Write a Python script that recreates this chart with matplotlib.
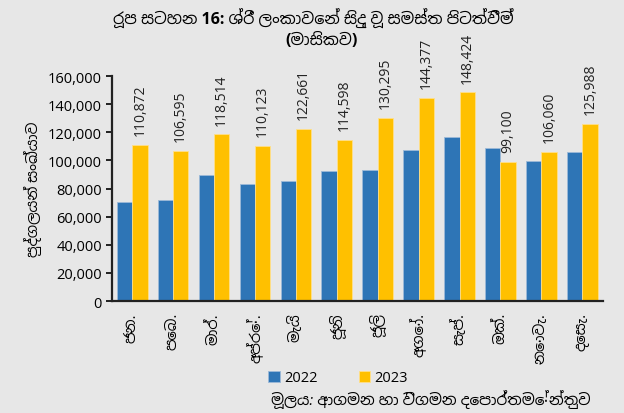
import matplotlib
matplotlib.use('Agg')

import matplotlib.pyplot as plt
from matplotlib import font_manager
from matplotlib.ft2font import FT2Font
import numpy as np

# Data
months = ['ජන.', 'පෙබ.', 'මාර්.', 'අප්‍රේ.', 'මැයි', 'ජූනි', 'ජූලි',
          'අගෝ.', 'සැප්.', 'ඔක්.', 'නොවැ.', 'දෙසැ.']
values_2022 = [70500, 72000, 89500, 83300, 85500, 92300, 93300,
               107500, 116300, 109000, 99900, 106300]
values_2023 = [110872, 106595, 118514, 110123, 122661, 114598, 130295,
               144377, 148424, 99100, 106060, 125988]
series_names = ['2022', '2023']
title_lines = ['රූප සටහන 16: ශ්‍රී ලංකාවෙන් සිදු වූ සමස්ත පිටත්වීම්',
               '(මාසිකව)']
ylabel = 'පුද්ගලයන් සංඛ්‍යාව'
source = 'මූලය: ආගමන හා විගමන දෙපාර්තමේන්තුව'


def find_sinhala_fonts():
    """Look for any installed font that has Sinhala glyphs"""
    found = []
    for f in font_manager.fontManager.ttflist:
        try:
            cmap = FT2Font(f.fname).get_charmap()
        except Exception:
            continue
        if 0x0DC1 in cmap and f.name not in found:
            found.append(f.name)
    # sans fonts first
    pref = ['Noto Sans Sinhala', 'Noto Sans Sinhala UI', 'Hind Colombo']
    found.sort(key=lambda n: (pref.index(n) if n in pref else 10,
                              'mono' in n.lower(), n))
    return found


def clean(s):
    # zero width joiner is not shaped by matplotlib, drop it
    return s.replace('\u200d', '')


sinhala = find_sinhala_fonts()
plt.rcParams['font.family'] = ['Open Sans'] + sinhala[:1] + ['DejaVu Sans']

BG = '#E7E7E7'
BLUE = '#2E75B6'
YELLOW = '#FFC000'

fig = plt.figure(figsize=(6.24, 4.14), dpi=100, facecolor=BG)
ax = fig.add_axes([0.179, 0.2705, 0.787, 0.5435])
ax.set_facecolor(BG)

x = np.arange(len(months))
w = 0.375
ax.bar(x - w / 2, values_2022, w, color=BLUE, edgecolor='#9DB9D8',
       linewidth=0.6, label=series_names[0])
ax.bar(x + w / 2, values_2023, w, color=YELLOW, edgecolor='#FFE08A',
       linewidth=0.6, label=series_names[1])

for xi, v in zip(x, values_2023):
    ax.annotate(f'{v:,}', (xi + w / 2, v), xytext=(0, 7),
                textcoords='offset points', rotation=90, ha='center',
                va='bottom', fontsize=10, color='#222222')

ax.set_xlim(-0.5, len(months) - 0.5)
ax.set_ylim(0, 160000)
ax.set_yticks(np.arange(0, 160001, 20000))
ax.set_yticklabels([f'{t:,}' for t in range(0, 160001, 20000)], fontsize=10.5)
ax.set_xticks(x)
ax.set_xticklabels([clean(m) for m in months], rotation=90, fontsize=10.5)
ax.tick_params(axis='x', length=0, pad=8)
ax.tick_params(axis='y', length=4, width=1.2, pad=3)

for s in ['top', 'right']:
    ax.spines[s].set_visible(False)
for s in ['left', 'bottom']:
    ax.spines[s].set_linewidth(1.6)
    ax.spines[s].set_color('#222222')

ax.set_ylabel(clean(ylabel), fontsize=10.5, labelpad=4)

# title, two lines drawn separately
fig.text(0.502, 0.955, clean(title_lines[0]), ha='center', va='center',
         fontsize=11.5, fontweight='bold')
fig.text(0.515, 0.902, clean(title_lines[1]), ha='center', va='center',
         fontsize=11.5, fontweight='bold')

ax.legend(loc='upper center', bbox_to_anchor=(0.461, -0.25), ncol=2,
          frameon=False, fontsize=10.5, handlelength=0.8, handleheight=0.8,
          columnspacing=2.8, handletextpad=0.3)

fig.text(0.435, 0.035, clean(source), ha='left', va='center', fontsize=11,
         style='italic')

fig.savefig('out.png', dpi=100, facecolor=BG)
